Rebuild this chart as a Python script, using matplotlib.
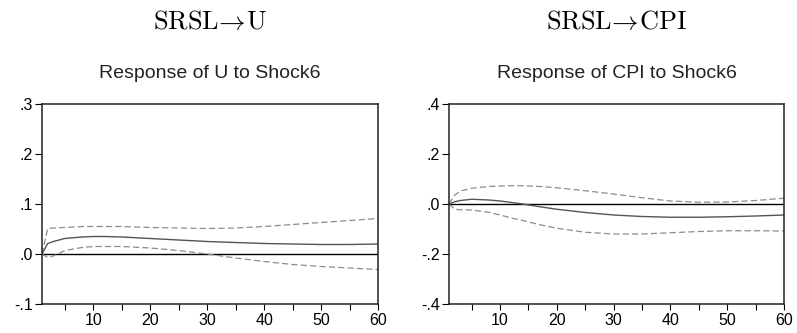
import matplotlib.pyplot as plt
from matplotlib.ticker import FixedLocator, FuncFormatter
import numpy as np

plt.rcParams['mathtext.fontset'] = 'cm'
plt.rcParams['font.family'] = ['Liberation Sans', 'DejaVu Sans']

# response of U to Shock6
u_periods = [1, 2, 3, 5, 8, 10, 12, 15, 20, 25, 30, 35, 40, 45, 50, 55, 60]
u_resp = [0.0, 0.021, 0.025, 0.031, 0.034, 0.035, 0.035, 0.034, 0.031, 0.028, 0.025, 0.023, 0.021, 0.020, 0.019, 0.019, 0.020]
u_upper = [0.0, 0.051, 0.052, 0.053, 0.055, 0.055, 0.055, 0.055, 0.053, 0.052, 0.051, 0.052, 0.055, 0.059, 0.063, 0.067, 0.071]
u_lower = [0.0, -0.007, -0.004, 0.007, 0.013, 0.015, 0.015, 0.015, 0.012, 0.007, 0.0, -0.008, -0.015, -0.021, -0.025, -0.028, -0.031]

# response of CPI to Shock6
c_periods = [1, 2, 3, 5, 8, 10, 12, 14, 17, 20, 25, 30, 35, 40, 45, 50, 55, 60]
c_resp = [0.0, 0.009, 0.014, 0.019, 0.016, 0.012, 0.006, 0.0, -0.011, -0.021, -0.034, -0.044, -0.050, -0.053, -0.053, -0.051, -0.048, -0.044]
c_upper = [0.0, 0.036, 0.052, 0.063, 0.070, 0.072, 0.073, 0.073, 0.070, 0.065, 0.053, 0.040, 0.025, 0.012, 0.007, 0.008, 0.014, 0.023]
c_lower = [0.0, -0.021, -0.023, -0.024, -0.033, -0.044, -0.056, -0.066, -0.083, -0.097, -0.113, -0.120, -0.120, -0.115, -0.110, -0.107, -0.107, -0.108]

panels = [
    (r'$\mathrm{SRSL}\!\rightarrow\!\mathrm{U}$', 'Response of U to Shock6',
     u_periods, u_resp, u_upper, u_lower, (-0.1, 0.3), [-0.1, 0.0, 0.1, 0.2, 0.3]),
    (r'$\mathrm{SRSL}\!\rightarrow\!\mathrm{CPI}$', 'Response of CPI to Shock6',
     c_periods, c_resp, c_upper, c_lower, (-0.4, 0.4), [-0.4, -0.2, 0.0, 0.2, 0.4]),
]


def fmt(v, pos):
    s = '%.1f' % v
    if s.startswith('-0'):
        return '-' + s[2:]
    if s.startswith('0'):
        return s[1:]
    return s


fig = plt.figure(figsize=(7.97, 3.33), dpi=100)
lefts = [42 / 797, 449 / 797]
widths = [336 / 797, 335 / 797]

for i, (big, sub, per, resp, up, lo, ylim, yt) in enumerate(panels):
    ax = fig.add_axes([lefts[i], 29 / 333, widths[i], 200 / 333])
    ax.axhline(0, color='black', lw=1.0)
    ax.plot(per, up, color='#8c8c8c', lw=0.9, ls=(0, (5, 2.5)))
    ax.plot(per, lo, color='#8c8c8c', lw=0.9, ls=(0, (5, 2.5)))
    ax.plot(per, resp, color='#555555', lw=1.0)
    ax.set_xlim(1, 60)
    ax.set_ylim(*ylim)
    ax.xaxis.set_major_locator(FixedLocator([10, 20, 30, 40, 50, 60]))
    ax.xaxis.set_minor_locator(FixedLocator([5, 15, 25, 35, 45, 55]))
    ax.yaxis.set_major_locator(FixedLocator(yt))
    ax.yaxis.set_major_formatter(FuncFormatter(fmt))
    ax.tick_params(axis='x', which='both', direction='out', length=4.5, width=0.8,
                   labelsize=11.5, pad=2)
    ax.tick_params(axis='y', direction='out', length=5, width=0.8, labelsize=11.5, pad=1.5)
    for sp in ax.spines.values():
        sp.set_linewidth(1.1)
        sp.set_color('#222222')
    cx = lefts[i] + widths[i] / 2
    fig.text(cx, 1 - 78 / 333, sub, ha='center', va='baseline', fontsize=14,
             color='#222222')
    fig.text(cx, 1 - 29 / 333, big, ha='center', va='baseline', fontsize=19)

fig.savefig('out.png', dpi=100)
